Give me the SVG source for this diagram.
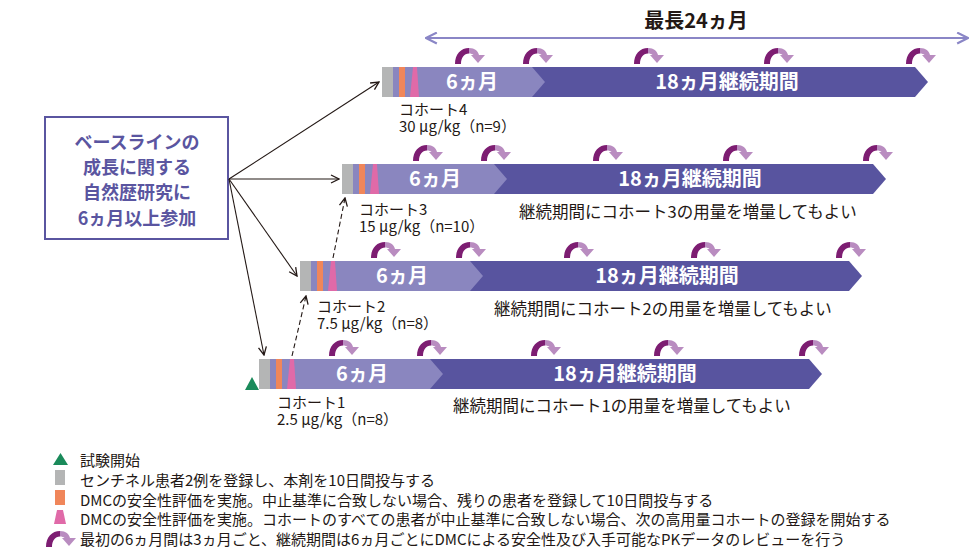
<svg xmlns="http://www.w3.org/2000/svg" width="980" height="557" viewBox="0 0 980 557">
<style>
text{font-family:"Noto Sans CJK JP","Noto Sans",sans-serif;}
.t{font-size:15px;fill:#231815;}
.nt{font-size:16.5px;fill:#231815;}
.lg{font-size:15px;fill:#231815;}
.bt{font-size:20px;font-weight:bold;fill:#fff;text-anchor:middle;}
.node{font-size:18px;font-weight:bold;fill:#5a55a0;text-anchor:middle;}
.gray{fill:#b4b5b5;}
.light{fill:#8a86bf;}
.dark{fill:#58549f;}
.or{fill:#f0865a;}
.pk{fill:#e06aa8;}
.ln{stroke:#231815;stroke-width:1.1;fill:none;}
.dash{stroke-dasharray:5 3;}
</style>
<defs>
<marker id="ah" viewBox="0 0 10 10" refX="9" refY="5" markerWidth="10" markerHeight="10" markerUnits="userSpaceOnUse" orient="auto">
<path d="M1,1 L9,5 L1,9" fill="none" stroke="#231815" stroke-width="1.3"/>
</marker>
<marker id="ahp" viewBox="0 0 12 12" refX="11" refY="6" markerWidth="13" markerHeight="13" markerUnits="userSpaceOnUse" orient="auto-start-reverse">
<path d="M1,1 L11,6 L1,11" fill="none" stroke="#8a86c6" stroke-width="2"/>
</marker>
<g id="cyc">
<path d="M-14,8 C-14,-2 -8,-8 0,-8 L0,-2.5 C-5,-2.5 -8,2 -8,8 Z" fill="#7d1d72"/>
<path d="M0,-8 C6,-8 9,-5 10,-1 L16,-1 L9,7 L2,-1 L4.5,-1 C3.5,-2 2,-2.5 0,-2.5 Z" fill="#b98cc0"/>
</g>
</defs>
<rect width="980" height="557" fill="#fff"/>

<g id="title">
<text x="696" y="28" font-size="20" font-weight="bold" fill="#231815" text-anchor="middle">最長24ヵ月</text>
<line x1="426" y1="38" x2="968" y2="38" stroke="#8a86c6" stroke-width="2" marker-start="url(#ahp)" marker-end="url(#ahp)"/>
</g>

<g id="baseline-node">
<rect x="45" y="117" width="183" height="122" fill="#fff" stroke="#5a55a0" stroke-width="2"/>
<text class="node" x="137" y="149">ベースラインの</text>
<text class="node" x="137" y="174">成長に関する</text>
<text class="node" x="137" y="199">自然歴研究に</text>
<text class="node" x="137" y="225">6ヵ月以上参加</text>
</g>

<g id="cohort4">
<polygon class="dark" points="393,67 915,67 928,82 915,97 393,97"/>
<polygon class="light" points="393,67 532,67 545,82 532,97 393,97"/>
<rect class="gray" x="382" y="67" width="11" height="30"/>
<rect class="or" x="399" y="67" width="6" height="30"/>
<polygon class="pk" points="413,67 417,67 419,97 410,97"/>
<text class="bt" x="472" y="89">6ヵ月</text>
<text class="bt" x="727" y="89">18ヵ月継続期間</text>
<use href="#cyc" x="469" y="56"/><use href="#cyc" x="537" y="56"/><use href="#cyc" x="648" y="56"/><use href="#cyc" x="778" y="56"/><use href="#cyc" x="920" y="56"/>
<text class="t" x="399" y="115">コホート4</text>
<text class="t" x="399" y="132">30 µg/kg（n=9）</text>
</g>

<g id="cohort3">
<polygon class="dark" points="353,164 873,164 886,179 873,194 353,194"/>
<polygon class="light" points="353,164 494,164 507,179 494,194 353,194"/>
<rect class="gray" x="342" y="164" width="11" height="30"/>
<rect class="or" x="359" y="164" width="6" height="30"/>
<polygon class="pk" points="373,164 377,164 379,194 370,194"/>
<text class="bt" x="435" y="186">6ヵ月</text>
<text class="bt" x="690" y="186">18ヵ月継続期間</text>
<use href="#cyc" x="427" y="153"/><use href="#cyc" x="495" y="153"/><use href="#cyc" x="607" y="153"/><use href="#cyc" x="737" y="153"/><use href="#cyc" x="877" y="153"/>
<text class="t" x="359" y="215">コホート3</text>
<text class="t" x="359" y="232">15 µg/kg（n=10）</text>
<text class="nt" x="519" y="218">継続期間にコホート3の用量を増量してもよい</text>
</g>

<g id="cohort2">
<polygon class="dark" points="311,261 849,261 862,276 849,291 311,291"/>
<polygon class="light" points="311,261 470,261 483,276 470,291 311,291"/>
<rect class="gray" x="300" y="261" width="11" height="30"/>
<rect class="or" x="317" y="261" width="6" height="30"/>
<polygon class="pk" points="331,261 335,261 337,291 328,291"/>
<text class="bt" x="402" y="283">6ヵ月</text>
<text class="bt" x="667" y="283">18ヵ月継続期間</text>
<use href="#cyc" x="385" y="250"/><use href="#cyc" x="470" y="250"/><use href="#cyc" x="578" y="250"/><use href="#cyc" x="705" y="250"/><use href="#cyc" x="850" y="250"/>
<text class="t" x="317" y="312">コホート2</text>
<text class="t" x="317" y="329">7.5 µg/kg（n=8）</text>
<text class="nt" x="494" y="315">継続期間にコホート2の用量を増量してもよい</text>
</g>

<g id="cohort1">
<polygon class="dark" points="270,359 809,359 822,374 809,389 270,389"/>
<polygon class="light" points="270,359 430,359 443,374 430,389 270,389"/>
<rect class="gray" x="259" y="359" width="11" height="30"/>
<rect class="or" x="276" y="359" width="6" height="30"/>
<polygon class="pk" points="290,359 294,359 296,389 287,389"/>
<text class="bt" x="362" y="381">6ヵ月</text>
<text class="bt" x="625" y="381">18ヵ月継続期間</text>
<use href="#cyc" x="343" y="348"/><use href="#cyc" x="431" y="348"/><use href="#cyc" x="545" y="348"/><use href="#cyc" x="668" y="348"/><use href="#cyc" x="813" y="348"/>
<text class="t" x="277" y="408">コホート1</text>
<text class="t" x="277" y="425">2.5 µg/kg（n=8）</text>
<text class="nt" x="453" y="412">継続期間にコホート1の用量を増量してもよい</text>
</g>

<g id="start">
<polygon points="245,390 259,390 252,377" fill="#1a8a5a"/>
</g>

<g id="connectors">
<line class="ln" x1="229" y1="179" x2="379" y2="82" marker-end="url(#ah)"/>
<line class="ln" x1="229" y1="179" x2="339" y2="179" marker-end="url(#ah)"/>
<line class="ln" x1="229" y1="179" x2="297" y2="276" marker-end="url(#ah)"/>
<line class="ln" x1="229" y1="179" x2="264" y2="355" marker-end="url(#ah)"/>
<line class="ln dash" x1="292" y1="356" x2="306" y2="296" marker-end="url(#ah)"/>
<line class="ln dash" x1="333" y1="258" x2="345" y2="198" marker-end="url(#ah)"/>
</g>

<g id="legend">
<polygon points="53,465 68,465 60.5,453" fill="#1a8a5a"/>
<text class="lg" x="80" y="466">試験開始</text>
<rect class="gray" x="55" y="470" width="10" height="15"/>
<text class="lg" x="80" y="486">センチネル患者2例を登録し、本剤を10日間投与する</text>
<rect class="or" x="55" y="490" width="10" height="15"/>
<text class="lg" x="80" y="506">DMCの安全性評価を実施。中止基準に合致しない場合、残りの患者を登録して10日間投与する</text>
<polygon class="pk" points="57,510 63,510 66,524 54,524"/>
<text class="lg" x="80" y="525">DMCの安全性評価を実施。コホートのすべての患者が中止基準に合致しない場合、次の高用量コホートの登録を開始する</text>
<use href="#cyc" x="60" y="539"/>
<text class="lg" x="80" y="545">最初の6ヵ月間は3ヵ月ごと、継続期間は6ヵ月ごとにDMCによる安全性及び入手可能なPKデータのレビューを行う</text>
</g>
</svg>
